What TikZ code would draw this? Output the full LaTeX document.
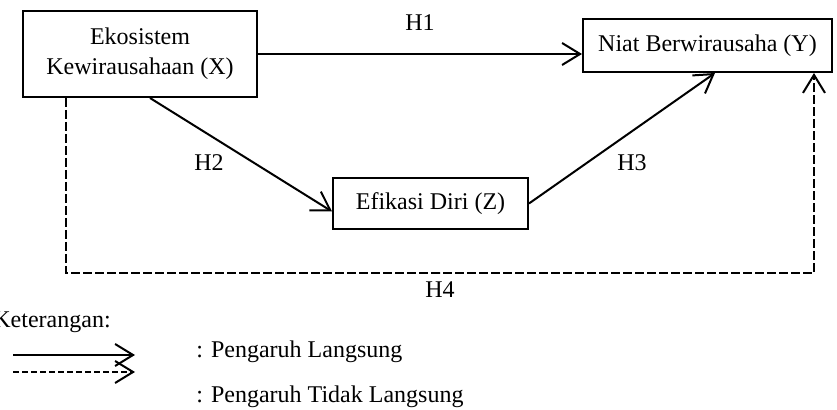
\documentclass[tikz,border=0pt]{standalone}
\usepackage{fontspec}
\setmainfont{Liberation Serif}
\usetikzlibrary{arrows.meta}
\tikzset{
    var/.style={draw, line width=1pt, inner sep=0pt, align=center, font=\fontsize{12}{15}\selectfont},
    lbl/.style={font=\fontsize{12}{15}\selectfont},
    pengaruh/.style={line width=1pt, -{Straight Barb[length=9pt,width=11pt,line width=1pt]}},
    taklangsung/.style={pengaruh, dash pattern=on 4.5pt off 1.5pt}
}
\begin{document}
\begin{tikzpicture}[x=0.5pt,y=-0.5pt]
                    \useasboundingbox (0,0) rectangle (837,410);
                    \node[var, minimum width=117pt, minimum height=43pt] (eks) at (140,54) {Ekosistem\\Kewirausahaan (X)};
                    \node[var, minimum width=124.5pt, minimum height=26.5pt] (niat) at (707.5,45.5) {Niat Berwirausaha (Y)};
                    \node[var, minimum width=97.5pt, minimum height=25.5pt] (efi) at (430.5,203.5) {Efikasi Diri (Z)};
                    \coordinate (h4) at (440,273);
                    \draw[pengaruh] (eks.east) -- (eks.east -| niat.west)
                        node[lbl, midway, above=8pt] (h1) {H1};
                    \draw[pengaruh] ([xshift=5pt]eks.south) -- ([yshift=-4pt]efi.west);
                    \draw[pengaruh] (efi.east) -- ([xshift=3.75pt]niat.south);
                    \draw[taklangsung] ([xshift=22pt]eks.south west) |- (h4) -| ([xshift=-9.5pt]niat.south east);
                    \node[lbl] (h2) at (209,163) {H2};
                    \node[lbl] (h3) at (632,163) {H3};
                    \node[lbl, below=1pt] (h4l) at (h4) {H4};
                    \node[lbl, anchor=west, inner sep=0pt] (ket) at (-7,322) {Keterangan:};
                    \coordinate (la) at (13,355);
                    \coordinate (lb) at (135,355);
                    \coordinate (lc) at (13,372);
                    \coordinate (ld) at (135,372);
                    \draw[pengaruh] (la) -- (lb);
                    \draw[taklangsung, dash pattern=on 3pt off 1.5pt] (lc) -- (ld);
                    \node[lbl, anchor=west, inner sep=0pt] (langsung) at (196,352) {: Pengaruh Langsung};
                    \node[lbl, anchor=west, inner sep=0pt] (tidak) at (196,397) {: Pengaruh Tidak Langsung};
                \end{tikzpicture}
\end{document}
